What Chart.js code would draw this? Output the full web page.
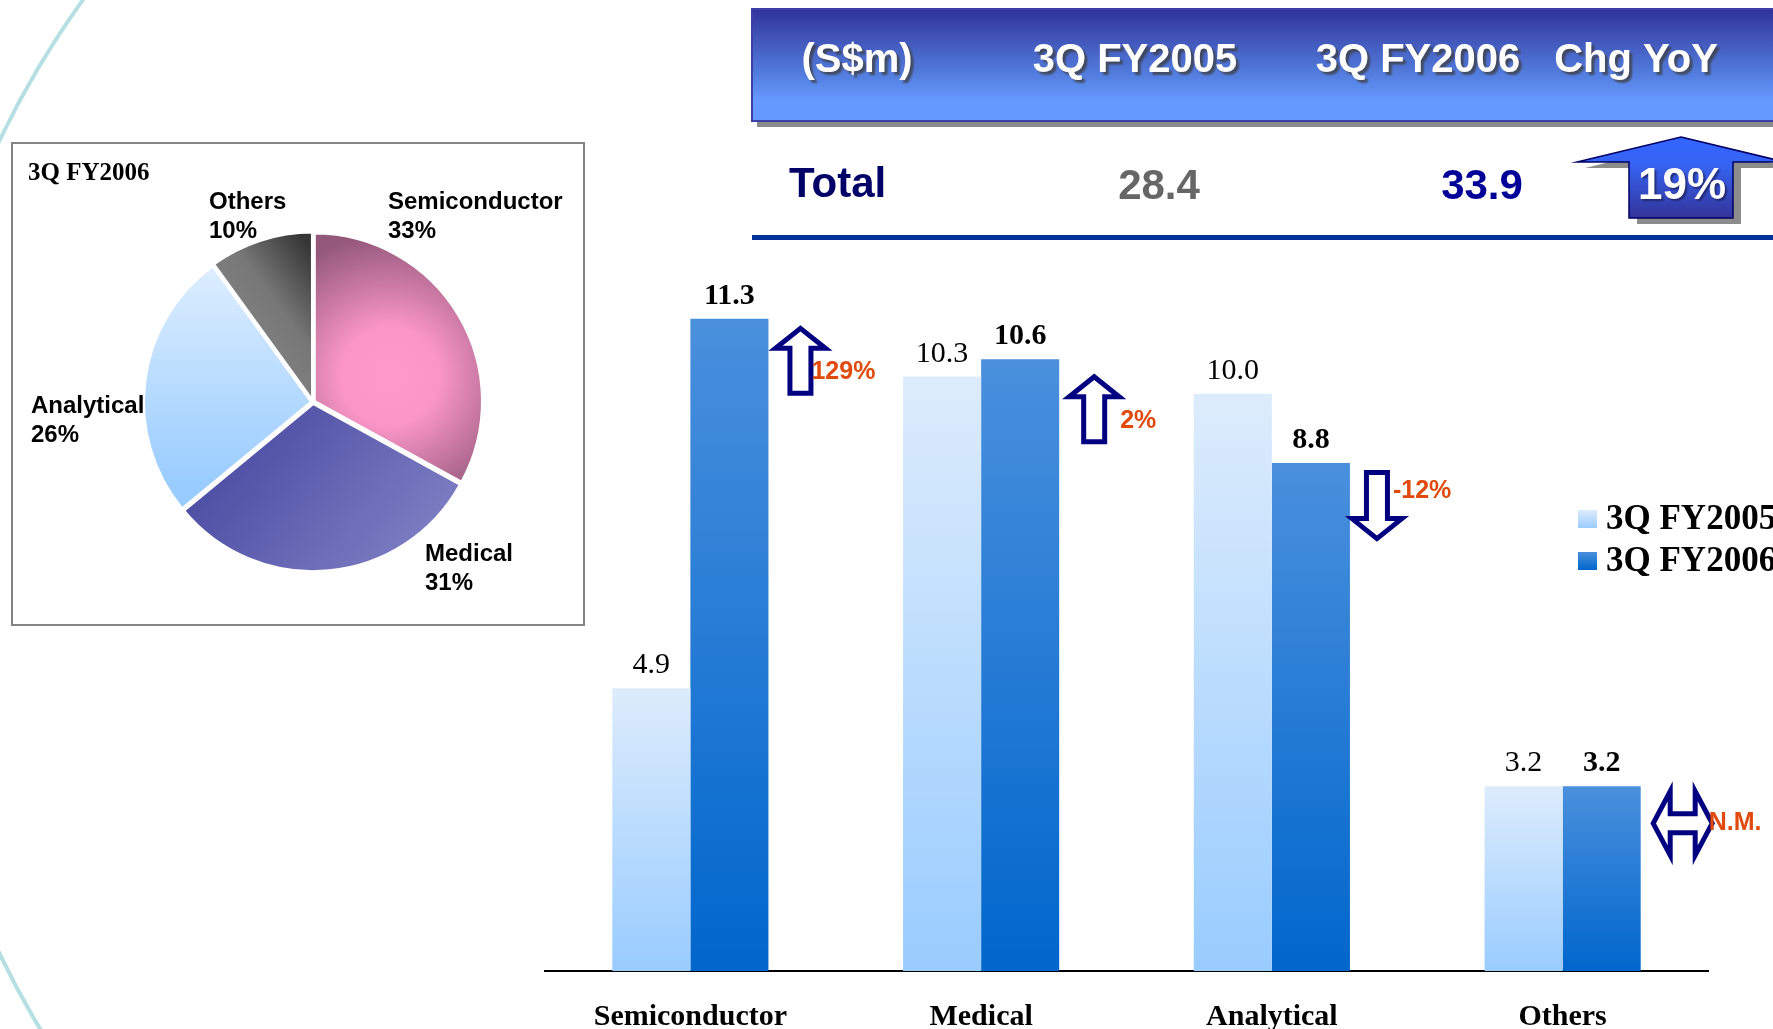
<!DOCTYPE html>
<html>
<head>
<meta charset="utf-8">
<title>Segment revenue 3Q FY2006</title>
<script src="https://cdn.jsdelivr.net/npm/chart.js@4.4.1/dist/chart.umd.min.js"></script>
<style>
  html, body { margin: 0; padding: 0; background: #ffffff; overflow: hidden; width: 1773px; height: 1029px; }
  #bar { position: absolute; left: 0; top: 0; }
  #pie { position: absolute; left: 11px; top: 142px; }
</style>
</head>
<body>
<canvas id="bar" width="1773" height="1100"></canvas>
<canvas id="pie" width="574" height="484"></canvas>
<script>
// Revenue by business segment (S$m)
const categories = ['Semiconductor', 'Medical', 'Analytical', 'Others'];
const seriesNames = ['3Q FY2005', '3Q FY2006'];
const fy2005 = [4.9, 10.3, 10.0, 3.2];
const fy2006 = [11.3, 10.6, 8.8, 3.2];
const changeLabels = ['129%', '2%', '-12%', 'N.M.'];
const changeDirections = ['up', 'up', 'down', 'flat'];

// Summary table
const tableHeaders = ['(S$m)', '3Q FY2005', '3Q FY2006', 'Chg YoY'];
const totalLabel = 'Total';
const totals = [28.4, 33.9];
const totalChange = '19%';

// Segment mix for the quarter
const pieTitle = '3Q FY2006';
const pieLabels = ['Semiconductor', 'Medical', 'Analytical', 'Others'];
const pieShares = [33, 31, 26, 10];

// ---- styling ----
const SERIF = '"Liberation Serif", "Times New Roman", Times, serif';
const SANS = '"Liberation Sans", Arial, Helvetica, sans-serif';
const NAVY = '#000080';
const ORANGE = '#E04A0C';
const LIGHT = ['#DDECFC', '#99CCFF'];
const DARK = ['#4A90DD', '#0066CC'];

// arrow placement relative to each FY2006 bar, and label offset relative to the arrow
const arrowStyle = [
  { dx: 32, dy: 7,  tx: 11, ty: 46 },
  { dx: 35, dy: 15, tx: 26, ty: 47 },
  { dx: 27, dy: 7,  tx: 16, ty: 21 },
  { dx: 10, dy: 37, tx: 58, ty: 0 }
];

function barGradient(c, stops) {
  const chart = c.chart;
  if (c.type !== 'data' || !chart.chartArea || !chart.scales.y) return stops[1];
  const y = chart.scales.y;
  const top = y.getPixelForValue(c.raw);
  const base = y.getPixelForValue(0);
  const g = chart.ctx.createLinearGradient(0, top, 0, base);
  g.addColorStop(0, stops[0]);
  g.addColorStop(1, stops[1]);
  return g;
}

function upArrow(ctx, cx, top, len, headW, shaftW, headH) {
  ctx.beginPath();
  ctx.moveTo(cx, top);
  ctx.lineTo(cx + headW / 2, top + headH);
  ctx.lineTo(cx + shaftW / 2, top + headH);
  ctx.lineTo(cx + shaftW / 2, top + len);
  ctx.lineTo(cx - shaftW / 2, top + len);
  ctx.lineTo(cx - shaftW / 2, top + headH);
  ctx.lineTo(cx - headW / 2, top + headH);
  ctx.closePath();
}

function downArrow(ctx, cx, top, len, headW, shaftW, headH) {
  const bot = top + len;
  ctx.beginPath();
  ctx.moveTo(cx, bot);
  ctx.lineTo(cx + headW / 2, bot - headH);
  ctx.lineTo(cx + shaftW / 2, bot - headH);
  ctx.lineTo(cx + shaftW / 2, top);
  ctx.lineTo(cx - shaftW / 2, top);
  ctx.lineTo(cx - shaftW / 2, bot - headH);
  ctx.lineTo(cx - headW / 2, bot - headH);
  ctx.closePath();
}

function sideArrow(ctx, left, cy, w, h, t, hl) {
  ctx.beginPath();
  ctx.moveTo(left, cy);
  ctx.lineTo(left + hl, cy - h / 2);
  ctx.lineTo(left + hl, cy - t / 2);
  ctx.lineTo(left + w - hl, cy - t / 2);
  ctx.lineTo(left + w - hl, cy - h / 2);
  ctx.lineTo(left + w, cy);
  ctx.lineTo(left + w - hl, cy + h / 2);
  ctx.lineTo(left + w - hl, cy + t / 2);
  ctx.lineTo(left + hl, cy + t / 2);
  ctx.lineTo(left + hl, cy + h / 2);
  ctx.closePath();
}

function outlineStroke(ctx) {
  ctx.fillStyle = '#ffffff';
  ctx.fill();
  ctx.lineWidth = 5;
  ctx.lineJoin = 'miter';
  ctx.strokeStyle = NAVY;
  ctx.stroke();
}

function drawBackdrop(ctx) {
  // decorative arc on the left edge
  ctx.save();
  ctx.strokeStyle = '#B6DFE4';
  ctx.lineWidth = 4;
  ctx.beginPath();
  ctx.arc(846, 547, 939, Math.PI * 145 / 180, Math.PI * 220 / 180);
  ctx.stroke();
  ctx.restore();
}

function drawTable(ctx) {
  ctx.save();
  // header band with drop shadow
  ctx.fillStyle = '#8a8a8a';
  ctx.fillRect(757, 15, 1100, 112);
  const g = ctx.createLinearGradient(0, 9, 0, 121);
  g.addColorStop(0, '#323399');
  g.addColorStop(0.55, '#5079DA');
  g.addColorStop(0.82, '#6699FF');
  g.addColorStop(1, '#6699FF');
  ctx.fillStyle = g;
  ctx.fillRect(751, 9, 1100, 112);
  ctx.strokeStyle = '#3B3FA6';
  ctx.lineWidth = 2;
  ctx.strokeRect(752, 9, 1100, 112);

  const headX = [857, 1135, 1418, 1636];
  ctx.font = 'bold 40px ' + SANS;
  ctx.textAlign = 'center';
  ctx.textBaseline = 'alphabetic';
  ctx.shadowColor = 'rgba(60,60,60,0.75)';
  ctx.shadowOffsetX = 3;
  ctx.shadowOffsetY = 3;
  ctx.shadowBlur = 2;
  ctx.fillStyle = '#ffffff';
  tableHeaders.forEach((t, i) => ctx.fillText(t, headX[i], 72));
  ctx.shadowColor = 'transparent';

  // total row
  ctx.font = 'bold 42px ' + SANS;
  ctx.textAlign = 'left';
  ctx.fillStyle = '#000066';
  ctx.fillText(totalLabel, 789, 197);
  ctx.textAlign = 'center';
  ctx.fillStyle = '#666666';
  ctx.fillText(totals[0].toFixed(1), 1159, 199);
  ctx.fillStyle = '#000099';
  ctx.fillText(totals[1].toFixed(1), 1482, 199);

  // block arrow carrying the year-on-year change
  const pts = [[1681, 137], [1785, 162], [1733, 162], [1733, 218], [1629, 218], [1629, 162], [1577, 162]];
  const poly = (ox, oy) => {
    ctx.beginPath();
    pts.forEach((p, i) => i ? ctx.lineTo(p[0] + ox, p[1] + oy) : ctx.moveTo(p[0] + ox, p[1] + oy));
    ctx.closePath();
  };
  ctx.fillStyle = '#8c8c8c';
  poly(8, 6); ctx.fill();
  const ag = ctx.createLinearGradient(0, 137, 0, 218);
  ag.addColorStop(0, '#3366FF');
  ag.addColorStop(0.35, '#3663F2');
  ag.addColorStop(1, '#333399');
  ctx.fillStyle = ag;
  poly(0, 0); ctx.fill();
  ctx.strokeStyle = '#000066';
  ctx.lineWidth = 1.5;
  ctx.stroke();
  ctx.font = 'bold 44px ' + SANS;
  ctx.shadowColor = 'rgba(20,20,60,0.6)';
  ctx.shadowOffsetX = 2;
  ctx.shadowOffsetY = 2;
  ctx.fillStyle = '#ffffff';
  ctx.fillText(totalChange, 1682, 199);
  ctx.shadowColor = 'transparent';

  // rule under the total row
  ctx.fillStyle = '#003399';
  ctx.fillRect(752, 235, 1100, 5);
  ctx.restore();
}

const barDecor = {
  id: 'barDecor',
  beforeDraw(chart) {
    drawBackdrop(chart.ctx);
    drawTable(chart.ctx);
  },
  afterDatasetsDraw(chart) {
    const ctx = chart.ctx;
    const m0 = chart.getDatasetMeta(0).data;
    const m1 = chart.getDatasetMeta(1).data;
    ctx.save();
    // value labels
    ctx.textAlign = 'center';
    ctx.textBaseline = 'alphabetic';
    ctx.fillStyle = '#000000';
    ctx.font = '30px ' + SERIF;
    m0.forEach((b, i) => ctx.fillText(fy2005[i].toFixed(1), b.x, b.y - 15));
    ctx.font = 'bold 30px ' + SERIF;
    m1.forEach((b, i) => ctx.fillText(fy2006[i].toFixed(1), b.x, b.y - 15));

    // change arrows and labels
    m1.forEach((b, i) => {
      const s = arrowStyle[i];
      const right = b.x + b.width / 2;
      const dir = changeDirections[i];
      ctx.font = 'bold 25px ' + SANS;
      ctx.textAlign = 'left';
      ctx.textBaseline = 'middle';
      if (dir === 'up' || dir === 'down') {
        const cx = right + s.dx;
        const top = b.y + s.dy;
        if (dir === 'up') upArrow(ctx, cx, top + 2.5, 65, 50, 21, 20);
        else downArrow(ctx, cx, top + 2.5, 66, 50, 21, 20);
        outlineStroke(ctx);
        ctx.fillStyle = ORANGE;
        ctx.fillText(changeLabels[i], cx + s.tx, top + s.ty);
      } else {
        const left = right + s.dx;
        const cy = b.y + s.dy;
        sideArrow(ctx, left + 2.5, cy, 59, 64, 19, 17);
        outlineStroke(ctx);
        ctx.fillStyle = ORANGE;
        ctx.fillText(changeLabels[i], left + s.tx, cy + s.ty);
      }
    });

    // legend
    const sw = [LIGHT, DARK];
    const ly = [519, 561];
    ctx.font = 'bold 35px ' + SERIF;
    ctx.textAlign = 'left';
    ctx.textBaseline = 'middle';
    seriesNames.forEach((name, i) => {
      const g = ctx.createLinearGradient(0, ly[i] - 9, 0, ly[i] + 9);
      g.addColorStop(0, sw[i][0]);
      g.addColorStop(1, sw[i][1]);
      ctx.fillStyle = g;
      ctx.fillRect(1578, ly[i] - 9, 19, 18);
      ctx.fillStyle = '#000000';
      ctx.fillText(name, 1606, ly[i] + 1);
    });
    ctx.restore();
  }
};

new Chart(document.getElementById('bar'), {
  type: 'bar',
  data: {
    labels: categories,
    datasets: [
      { label: seriesNames[0], data: fy2005, backgroundColor: c => barGradient(c, LIGHT), borderWidth: 0 },
      { label: seriesNames[1], data: fy2006, backgroundColor: c => barGradient(c, DARK), borderWidth: 0 }
    ]
  },
  options: {
    responsive: false,
    animation: false,
    events: [],
    layout: { padding: { left: 545, right: 65, top: 163, bottom: 37 } },
    datasets: { bar: { categoryPercentage: 0.537, barPercentage: 1.0 } },
    scales: {
      x: {
        grid: { display: false, drawTicks: false },
        border: { display: true, color: '#000000', width: 2 },
        ticks: { color: '#000000', padding: 28, font: { family: SERIF, size: 30, weight: 'bold', lineHeight: 1.2 } }
      },
      y: { display: false, min: 0, max: 14 }
    },
    plugins: { legend: { display: false }, tooltip: { enabled: false } }
  },
  plugins: [barDecor]
});

// ---- segment mix pie ----
const PIE_R = 168;
function pieFill(c) {
  const chart = c.chart;
  const a = chart.chartArea;
  if (c.type !== 'data' || !a) return '#cccccc';
  const cx = (a.left + a.right) / 2, cy = (a.top + a.bottom) / 2, R = PIE_R;
  const ctx = chart.ctx;
  let g;
  switch (c.dataIndex) {
    case 0:
      g = ctx.createRadialGradient(cx + R * 0.45, cy - R * 0.15, 0, cx + R * 0.45, cy - R * 0.15, R * 0.85);
      g.addColorStop(0, '#FF99CC');
      g.addColorStop(0.35, '#F995C7');
      g.addColorStop(1, '#93587A');
      return g;
    case 1:
      g = ctx.createLinearGradient(cx - R * 0.6, cy + R * 0.1, cx + R * 0.5, cy + R * 1.0);
      g.addColorStop(0, '#4747A0');
      g.addColorStop(1, '#7C7CC2');
      return g;
    case 2:
      g = ctx.createLinearGradient(0, cy - R * 0.8, 0, cy + R * 0.5);
      g.addColorStop(0, '#DDEEFF');
      g.addColorStop(1, '#99CCFF');
      return g;
    default:
      g = ctx.createLinearGradient(cx + 5, cy - R * 0.85, cx - R * 0.45, cy - R * 0.5);
      g.addColorStop(0, '#363636');
      g.addColorStop(0.6, '#777777');
      g.addColorStop(1, '#808080');
      return g;
  }
}

// label offsets from the pie centre: [dx, dy of first line]
const pieLabelPos = [[75, -200], [112, 152], [-282, 4], [-104, -200]];

const pieDecor = {
  id: 'pieDecor',
  beforeDraw(chart) {
    const ctx = chart.ctx;
    ctx.save();
    ctx.strokeStyle = '#858585';
    ctx.lineWidth = 2;
    ctx.strokeRect(1, 1, chart.width - 2, chart.height - 2);
    ctx.fillStyle = '#000000';
    ctx.font = 'bold 25px ' + SERIF;
    ctx.textBaseline = 'middle';
    ctx.textAlign = 'left';
    ctx.fillText(pieTitle, 17, 32);
    ctx.restore();
  },
  afterDatasetsDraw(chart) {
    const ctx = chart.ctx;
    const a = chart.chartArea;
    const cx = (a.left + a.right) / 2, cy = (a.top + a.bottom) / 2;
    ctx.save();
    ctx.fillStyle = '#000000';
    ctx.font = 'bold 24px ' + SANS;
    ctx.textBaseline = 'middle';
    ctx.textAlign = 'left';
    pieLabels.forEach((name, i) => {
      const [dx, dy] = pieLabelPos[i];
      ctx.fillText(name, cx + dx, cy + dy);
      ctx.fillText(pieShares[i] + '%', cx + dx, cy + dy + 29);
    });
    ctx.restore();
  }
};

new Chart(document.getElementById('pie'), {
  type: 'pie',
  data: {
    labels: pieLabels,
    datasets: [{
      data: pieShares,
      backgroundColor: pieFill,
      borderColor: '#ffffff',
      borderWidth: 3,
      offset: 6,
      radius: PIE_R
    }]
  },
  options: {
    responsive: false,
    animation: false,
    events: [],
    layout: { padding: { left: 30, top: 36, right: 0, bottom: 0 } },
    plugins: { legend: { display: false }, tooltip: { enabled: false } }
  },
  plugins: [pieDecor]
});
</script>
</body>
</html>
